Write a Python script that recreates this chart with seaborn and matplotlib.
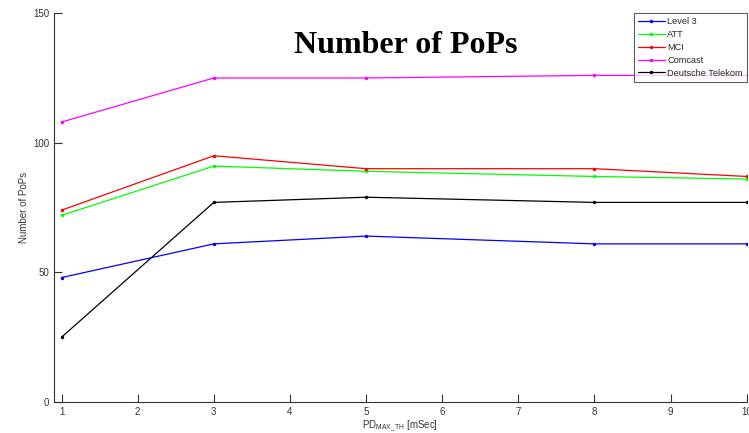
import numpy as np
import pandas as pd
import matplotlib
matplotlib.use('Agg')
import matplotlib.pyplot as plt
import seaborn as sns

sns.set_style('ticks')
plt.rcParams['font.family'] = ['Liberation Sans', 'DejaVu Sans']
plt.rcParams['mathtext.fontset'] = 'custom'
plt.rcParams['mathtext.rm'] = 'Liberation Sans'
plt.rcParams['mathtext.it'] = 'Liberation Sans'

# data
pd_max = [1, 3, 5, 8, 10]
level3 = [48, 61, 64, 61, 61]
att = [72, 91, 89, 87, 86]
mci = [74, 95, 90, 90, 87]
comcast = [108, 125, 125, 126, 126]
telekom = [25, 77, 79, 77, 77]

networks = ['Level 3', 'ATT', 'MCI', 'Comcast', 'Deutsche Telekom']
colors = {
	'Level 3': '#0000ff',
	'ATT': '#00ff00',
	'MCI': '#ff0000',
	'Comcast': '#ff00ff',
	'Deutsche Telekom': '#000000',
}

series = [level3, att, mci, comcast, telekom]
rows = []
for name, vals in zip(networks, series):
	for x, v in zip(pd_max, vals):
		rows.append([name, x, v])
df = pd.DataFrame(rows, columns=['Network', 'PD', 'PoPs'])

fig = plt.figure(figsize=(7.49, 4.33), dpi=100)
ax = fig.add_axes([0.072, 0.0716, 0.925, 0.898])

sns.lineplot(data=df, x='PD', y='PoPs', hue='Network', hue_order=networks,
	palette=colors, marker='.', markersize=5, markeredgewidth=0,
	linewidth=0.9, ax=ax)

ax.set_xlim(0.9, 10)
ax.set_ylim(0, 150)
ax.set_xticks(range(1, 11))
ax.set_yticks([0, 50, 100, 150])
ax.tick_params(direction='in', length=6, width=0.8, labelsize=7,
	colors='#333333', labelcolor='#333333')
for s in ['top', 'right']:
	ax.spines[s].set_visible(False)
for s in ['left', 'bottom']:
	ax.spines[s].set_color('#333333')
	ax.spines[s].set_linewidth(0.8)

ax.set_xlabel(r'PD$_{\mathrm{MAX\_TH}}$ [mSec]', fontsize=7, color='#333333', labelpad=1)
ax.set_ylabel('Number of PoPs', fontsize=7, color='#333333', labelpad=3)

ax.text(0.508, 0.918, 'Number of PoPs', transform=ax.transAxes,
	ha='center', va='center', fontsize=23, fontweight='bold', color='black',
	family=['Liberation Serif', 'DejaVu Serif'])

leg = ax.legend(loc='upper right', bbox_to_anchor=(1.0, 1.0), fontsize=6.6,
	frameon=True, fancybox=False, borderaxespad=0, handlelength=3.0,
	handletextpad=0.2, labelspacing=0.42, borderpad=0.45)
leg.get_frame().set_edgecolor('#333333')
leg.get_frame().set_linewidth(0.8)
leg.set_title(None)

fig.savefig('out.png', dpi=100)
